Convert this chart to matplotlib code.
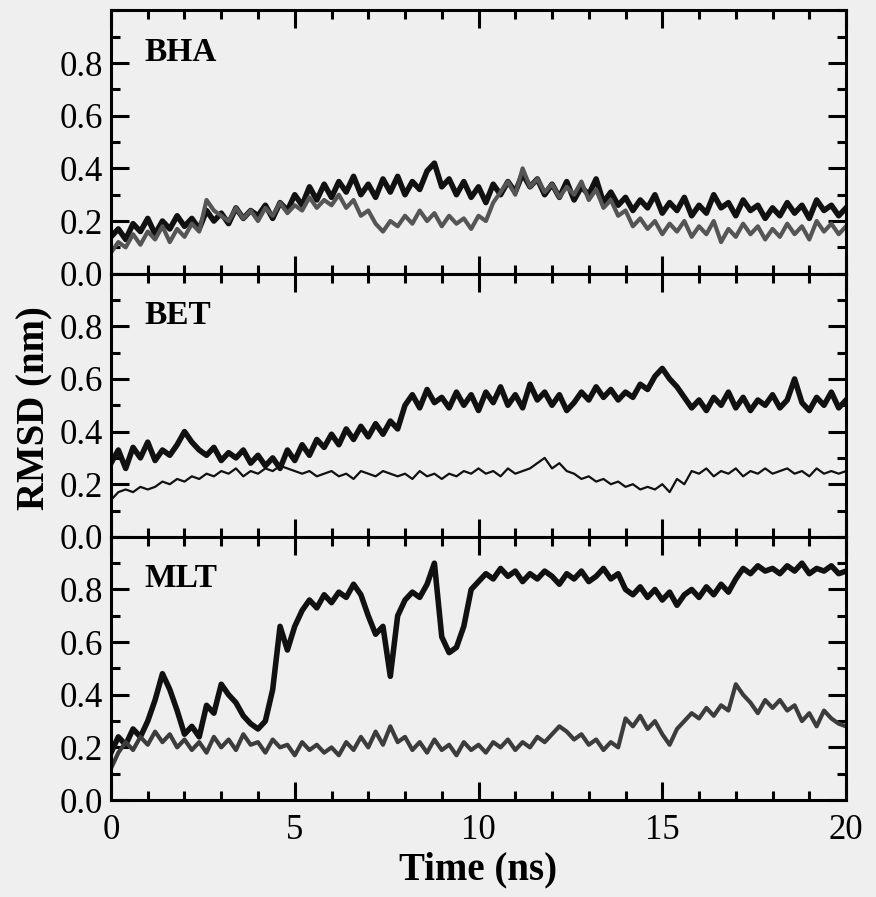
import numpy as np
import matplotlib
matplotlib.use("Agg")
import matplotlib.pyplot as plt
from matplotlib.ticker import MultipleLocator

plt.rcParams['font.family'] = ['Liberation Serif', 'DejaVu Serif']

# time axis, 0.2 ns steps
time_ns = np.arange(101) * 0.2

panel_names = ['BHA', 'BET', 'MLT']

# BHA
bha_thick = [0.14, 0.17, 0.13, 0.19, 0.16, 0.21, 0.15, 0.20, 0.17, 0.22,
             0.18, 0.21, 0.17, 0.24, 0.20, 0.23, 0.19, 0.25, 0.21, 0.24,
             0.22, 0.26, 0.21, 0.27, 0.24, 0.30, 0.26, 0.33, 0.28, 0.34,
             0.29, 0.35, 0.31, 0.37, 0.30, 0.34, 0.29, 0.36, 0.31, 0.37,
             0.30, 0.35, 0.32, 0.39, 0.42, 0.33, 0.36, 0.30, 0.35, 0.29,
             0.33, 0.27, 0.34, 0.30, 0.35, 0.31, 0.38, 0.33, 0.36, 0.30,
             0.34, 0.29, 0.35, 0.28, 0.33, 0.30, 0.36, 0.27, 0.31, 0.26,
             0.29, 0.24, 0.28, 0.25, 0.30, 0.23, 0.27, 0.24, 0.29, 0.22,
             0.26, 0.23, 0.30, 0.25, 0.27, 0.22, 0.28, 0.24, 0.26, 0.21,
             0.25, 0.22, 0.27, 0.23, 0.26, 0.21, 0.28, 0.24, 0.26, 0.22, 0.25]
bha_gray = [0.08, 0.12, 0.10, 0.15, 0.11, 0.16, 0.13, 0.18, 0.12, 0.17,
            0.14, 0.19, 0.16, 0.28, 0.24, 0.22, 0.20, 0.25, 0.21, 0.24,
            0.20, 0.25, 0.22, 0.27, 0.23, 0.26, 0.24, 0.29, 0.25, 0.28,
            0.26, 0.30, 0.25, 0.28, 0.22, 0.24, 0.19, 0.16, 0.20, 0.18,
            0.22, 0.19, 0.24, 0.20, 0.23, 0.18, 0.22, 0.19, 0.21, 0.17,
            0.22, 0.20, 0.27, 0.31, 0.35, 0.30, 0.40, 0.33, 0.36, 0.31,
            0.34, 0.29, 0.33, 0.30, 0.35, 0.28, 0.32, 0.25, 0.28, 0.22,
            0.24, 0.18, 0.21, 0.17, 0.20, 0.15, 0.19, 0.16, 0.20, 0.14,
            0.18, 0.15, 0.20, 0.12, 0.17, 0.14, 0.19, 0.15, 0.18, 0.13,
            0.17, 0.14, 0.19, 0.15, 0.18, 0.13, 0.20, 0.16, 0.19, 0.15, 0.18]

# BET
bet_thick = [0.28, 0.33, 0.26, 0.34, 0.30, 0.36, 0.29, 0.33, 0.31, 0.35,
             0.40, 0.36, 0.33, 0.31, 0.34, 0.29, 0.32, 0.30, 0.33, 0.28,
             0.31, 0.27, 0.30, 0.26, 0.33, 0.29, 0.35, 0.31, 0.37, 0.34,
             0.39, 0.35, 0.41, 0.37, 0.42, 0.38, 0.43, 0.39, 0.44, 0.41,
             0.50, 0.54, 0.49, 0.56, 0.51, 0.53, 0.49, 0.55, 0.50, 0.54,
             0.48, 0.55, 0.51, 0.57, 0.50, 0.54, 0.49, 0.58, 0.52, 0.55,
             0.50, 0.54, 0.48, 0.51, 0.55, 0.52, 0.57, 0.53, 0.56, 0.52,
             0.55, 0.53, 0.58, 0.56, 0.61, 0.64, 0.60, 0.57, 0.53, 0.49,
             0.52, 0.48, 0.53, 0.50, 0.55, 0.49, 0.53, 0.48, 0.52, 0.50,
             0.54, 0.49, 0.52, 0.60, 0.51, 0.48, 0.53, 0.50, 0.55, 0.49, 0.52]
bet_thin = [0.14, 0.17, 0.18, 0.17, 0.19, 0.18, 0.19, 0.21, 0.20, 0.22,
            0.21, 0.23, 0.22, 0.24, 0.23, 0.25, 0.24, 0.26, 0.23, 0.25,
            0.24, 0.26, 0.25, 0.27, 0.26, 0.25, 0.24, 0.25, 0.23, 0.24,
            0.25, 0.23, 0.24, 0.22, 0.25, 0.24, 0.23, 0.25, 0.24, 0.23,
            0.24, 0.22, 0.25, 0.23, 0.24, 0.22, 0.24, 0.23, 0.25, 0.24,
            0.26, 0.24, 0.25, 0.23, 0.26, 0.24, 0.25, 0.26, 0.28, 0.30,
            0.26, 0.28, 0.25, 0.24, 0.22, 0.23, 0.21, 0.22, 0.20, 0.21,
            0.19, 0.20, 0.18, 0.19, 0.18, 0.20, 0.17, 0.22, 0.20, 0.25,
            0.24, 0.26, 0.23, 0.25, 0.24, 0.26, 0.23, 0.25, 0.24, 0.26,
            0.24, 0.25, 0.26, 0.24, 0.25, 0.23, 0.26, 0.24, 0.25, 0.24, 0.25]

# MLT
mlt_thick = [0.18, 0.24, 0.21, 0.27, 0.24, 0.30, 0.38, 0.48, 0.42, 0.34,
             0.25, 0.28, 0.24, 0.36, 0.33, 0.44, 0.40, 0.37, 0.32, 0.29,
             0.27, 0.30, 0.42, 0.66, 0.57, 0.66, 0.72, 0.76, 0.73, 0.78,
             0.75, 0.79, 0.77, 0.82, 0.78, 0.70, 0.63, 0.66, 0.47, 0.70,
             0.76, 0.79, 0.77, 0.82, 0.90, 0.62, 0.56, 0.58, 0.66, 0.80,
             0.83, 0.86, 0.84, 0.88, 0.85, 0.87, 0.83, 0.86, 0.84, 0.87,
             0.85, 0.82, 0.86, 0.84, 0.87, 0.83, 0.85, 0.88, 0.84, 0.86,
             0.80, 0.78, 0.81, 0.77, 0.80, 0.76, 0.79, 0.74, 0.78, 0.80,
             0.77, 0.81, 0.78, 0.82, 0.79, 0.84, 0.88, 0.86, 0.89, 0.87,
             0.88, 0.86, 0.89, 0.87, 0.90, 0.86, 0.88, 0.87, 0.89, 0.86, 0.87]
mlt_gray = [0.12, 0.18, 0.22, 0.19, 0.24, 0.21, 0.26, 0.22, 0.25, 0.20,
            0.23, 0.19, 0.22, 0.18, 0.24, 0.20, 0.23, 0.19, 0.25, 0.21,
            0.22, 0.18, 0.23, 0.20, 0.21, 0.17, 0.22, 0.19, 0.21, 0.18,
            0.20, 0.17, 0.22, 0.19, 0.24, 0.20, 0.26, 0.21, 0.28, 0.22,
            0.24, 0.19, 0.22, 0.18, 0.23, 0.19, 0.21, 0.17, 0.22, 0.19,
            0.21, 0.18, 0.22, 0.20, 0.23, 0.19, 0.22, 0.20, 0.24, 0.22,
            0.25, 0.28, 0.26, 0.23, 0.25, 0.21, 0.23, 0.19, 0.22, 0.20,
            0.31, 0.28, 0.32, 0.27, 0.30, 0.25, 0.21, 0.27, 0.30, 0.33,
            0.31, 0.35, 0.32, 0.36, 0.34, 0.44, 0.40, 0.37, 0.33, 0.38,
            0.35, 0.38, 0.34, 0.36, 0.30, 0.33, 0.28, 0.34, 0.31, 0.29, 0.28]

thick_series = [bha_thick, bet_thick, mlt_thick]
second_series = [bha_gray, bet_thin, mlt_gray]
second_color = ['#555555', '#111111', '#3c3c3c']
second_lw = [3.0, 1.6, 3.0]

bg = '#efefef'
fig, axes = plt.subplots(3, 1, figsize=(8.76, 8.97), dpi=100, sharex=True,
                         facecolor=bg)
fig.subplots_adjust(left=0.1267, right=0.9658, top=0.9883, bottom=0.1081,
                    hspace=0)

for i, ax in enumerate(axes):
    ax.set_facecolor(bg)
    ax.plot(time_ns, thick_series[i], color='#111111', lw=4.0)
    ax.plot(time_ns, second_series[i], color=second_color[i], lw=second_lw[i])
    ax.set_xlim(0, 20)
    ax.set_ylim(0, 1.0)
    ax.set_yticks([0.0, 0.2, 0.4, 0.6, 0.8])
    ax.set_yticklabels(['0.0', '0.2', '0.4', '0.6', '0.8'])
    ax.yaxis.set_minor_locator(MultipleLocator(0.1))
    ax.xaxis.set_major_locator(MultipleLocator(5))
    ax.xaxis.set_minor_locator(MultipleLocator(1))
    ax.tick_params(which='both', direction='in', top=True, right=True,
                   width=2.2, labelsize=25, pad=6)
    ax.tick_params(which='major', length=13)
    ax.tick_params(which='minor', length=6.5)
    ax.tick_params(axis='x', pad=10)
    for sp in ax.spines.values():
        sp.set_linewidth(2.2)
    ax.text(0.045, 0.84, panel_names[i], transform=ax.transAxes,
            fontsize=24, fontweight='bold', va='center', ha='left')

fig.text(0.04, 1 - 408 / 897, 'RMSD (nm)', rotation=90, fontsize=28,
         fontweight='bold', va='center', ha='center')
fig.text(0.546, 0.030, 'Time (ns)', fontsize=28, fontweight='bold',
         va='center', ha='center')

fig.savefig('out.png', dpi=100, facecolor=bg)
